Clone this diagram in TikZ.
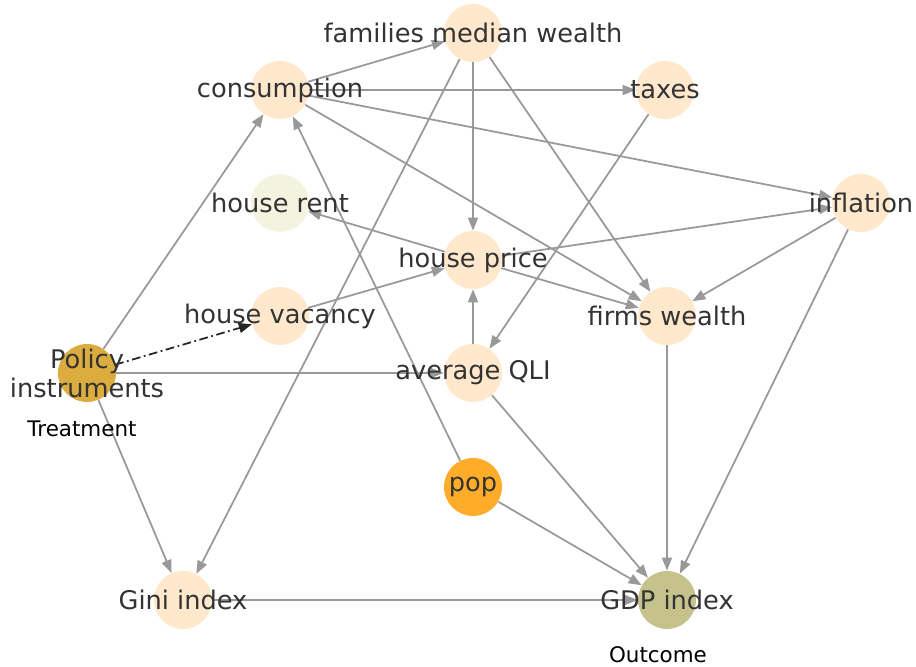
\documentclass[tikz,border=0pt]{standalone}
\usepackage{fontspec}
\setmainfont{DejaVu Sans}
\usetikzlibrary{arrows.meta}

\definecolor{nodepeach}{HTML}{FFE8CC}
\definecolor{nodebeige}{HTML}{F4F3DF}
\definecolor{nodegold}{HTML}{DBAC3E}
\definecolor{nodeorange}{HTML}{FFAC2A}
\definecolor{nodeolive}{HTML}{C5C28C}
\definecolor{edgegray}{HTML}{999999}
\definecolor{labelgray}{HTML}{333333}

\begin{document}
\begin{tikzpicture}[
            >=Latex,
            var/.style={circle, minimum size=1.16cm, inner sep=0pt, fill=nodepeach},
            var label/.style={font=\fontsize{14.6}{16.5}\selectfont, text=labelgray, align=center, inner sep=0pt},
            role label/.style={font=\fontsize{12.2}{14}\selectfont, text=black},
            edge/.style={-{Triangle[length=2.6mm, width=2mm]}, line width=1pt, draw=edgegray},
            treat edge/.style={-{Triangle[length=2.6mm, width=2mm]}, line width=1pt, black!85,
                dash pattern=on 5pt off 2pt on 1pt off 2pt},
        ]
        \useasboundingbox (0,0) rectangle (18.32,13.34);

        % Variables of the causal graph.
        \node[var] (fmw) at (9.46,12.68) {};
        \node[var] (cons) at (5.60,11.54) {};
        \node[var] (taxes) at (13.30,11.54) {};
        \node[var, fill=nodebeige] (rent) at (5.60,9.28) {};
        \node[var] (infl) at (17.22,9.28) {};
        \node[var] (price) at (9.46,8.14) {};
        \node[var] (vac) at (5.60,7.02) {};
        \node[var] (firms) at (13.34,7.02) {};
        \node[var, fill=nodegold] (policy) at (1.74,5.88) {};
        \node[var] (qli) at (9.46,5.88) {};
        \node[var, fill=nodeorange] (pop) at (9.46,3.60) {};
        \node[var] (gini) at (3.66,1.34) {};
        \node[var, fill=nodeolive] (gdp) at (13.34,1.34) {};

        % Causal links.
        \foreach \a/\b in {cons/fmw, cons/taxes, cons/infl, cons/firms,
                fmw/price, fmw/firms, fmw/gini, taxes/qli,
                price/rent, price/infl, price/firms, infl/firms, infl/gdp,
                firms/gdp, policy/cons, policy/qli, policy/gini,
                vac/price, qli/price, qli/gdp, pop/cons, pop/gdp, gini/gdp}
            \draw[edge] (\a) -- (\b);
        \draw[treat edge] (policy) -- (vac);

        % Labels on top of the circles.
        \node[var label] at (fmw) {families median wealth};
        \node[var label] at (cons) {consumption};
        \node[var label] at (taxes) {taxes};
        \node[var label] at (rent) {house rent};
        \node[var label] at (infl) {inflation};
        \node[var label] at (price) {house price};
        \node[var label] at (vac) {house vacancy};
        \node[var label] at (firms) {firms wealth};
        \node[var label] at (policy) {Policy\\instruments};
        \node[var label] at (qli) {average QLI};
        \node[var label] at (pop) {pop};
        \node[var label] at (gini) {Gini index};
        \node[var label] at (gdp) {GDP index};

        \node[role label] (treat) at (1.64,4.76) {Treatment};
        \node[role label] (outcome) at (13.16,0.24) {Outcome};
        \end{tikzpicture}
\end{document}
